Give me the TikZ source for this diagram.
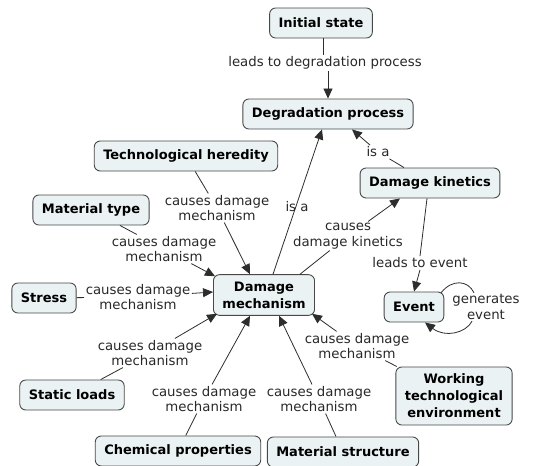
\documentclass[tikz,border=0pt]{standalone}
\usepackage{fontspec}
\setmainfont{DejaVu Sans}
\usetikzlibrary{arrows.meta}
\definecolor{boxfill}{RGB}{234,242,244}
\definecolor{boxline}{RGB}{72,72,72}
\definecolor{linkcol}{RGB}{45,45,45}
\definecolor{lbltext}{RGB}{40,40,40}
\tikzset{
  concept/.style={draw=boxline, fill=boxfill, rounded corners=6pt, line width=0.9pt,
    font=\bfseries\fontsize{13}{17}\selectfont, align=center, inner xsep=9pt,
    inner ysep=7pt, minimum height=30pt, text=black},
  lbl/.style={font=\fontsize{13.3}{15.5}\selectfont, align=center, inner sep=1.5pt, text=lbltext},
  link/.style={draw=linkcol, line width=0.8pt},
  arr/.style={link, -{Triangle[length=10pt,width=9pt]}}
}
\begin{document}
\begin{tikzpicture}[x=1pt,y=-1pt]
\useasboundingbox (0,0) rectangle (541,466);
% concepts
\node[concept] (init) at (321,23) {Initial state};
\node[concept] (deg) at (328,114) {Degradation process};
\node[concept] (her) at (186,156) {Technological heredity};
\node[concept] (mat) at (91,210) {Material type};
\node[concept] (kin) at (430,183) {Damage kinetics};
\node[concept] (mech) at (264,295) {Damage\\mechanism};
\node[concept] (str) at (44,298) {Stress};
\node[concept] (ev) at (414,307) {Event};
\node[concept] (sl) at (72,395) {Static loads};
\node[concept] (env) at (454,396) {Working\\technological\\environment};
\node[concept] (chem) at (178,451) {Chemical properties};
\node[concept] (ms) at (343,452) {Material structure};
% labels
\node[lbl] (l1) at (325,63) {leads to degradation process};
\node[lbl] (l2) at (378,152) {is a};
\node[lbl] (l3) at (297,207) {is a};
\node[lbl] (l4) at (217,208) {causes damage\\mechanism};
\node[lbl] (l5) at (164,249) {causes damage\\mechanism};
\node[lbl] (l6) at (348,236) {causes\\damage kinetics};
\node[lbl] (l7) at (420,263) {leads to event};
\node[lbl] (l8) at (138,297) {causes damage\\mechanism};
\node[lbl] (l9) at (486,307) {generates\\event};
\node[lbl] (l10) at (150,353) {causes damage\\mechanism};
\node[lbl] (l11) at (204,399) {causes damage\\mechanism};
\node[lbl] (l12) at (319,399) {causes damage\\mechanism};
\node[lbl] (l13) at (357,346) {causes damage\\mechanism};
% connectors
\draw[link] ([xshift=2pt]init.south) -- ([xshift=2pt]init.south |- l1.north);
\draw[arr] (deg.north |- l1.south) -- (deg.north);
\draw[link] ([xshift=-26pt]kin.north) -- (l2);
\draw[arr] (l2) -- ([xshift=24pt]deg.south);
\draw[arr] ([xshift=9pt]mech.north) -- ([xshift=-6pt]deg.south);
\draw[link] (her) -- (l4);
\draw[arr] (l4) -- ([xshift=-14pt]mech.north);
\draw[link] (mat) -- (l5);
\draw[arr] (l5) -- ([xshift=2pt,yshift=-2pt]mech.north west);
\draw[link] (str) -- (l8);
\draw[arr] (l8) -- ([yshift=3pt]mech.west);
\draw[link] (sl) -- (l10);
\draw[arr] (l10) -- ([xshift=4pt,yshift=2pt]mech.south west);
\draw[link] (chem) -- (l11);
\draw[arr] (l11) -- ([xshift=-14pt]mech.south);
\draw[link] (ms) -- (l12);
\draw[arr] (l12) -- ([xshift=15pt]mech.south);
\draw[link] (env) -- (l13);
\draw[arr] (l13) -- ([xshift=-3pt,yshift=2pt]mech.south east);
\draw[link] ([xshift=-15pt]mech.north east) -- (l6);
\draw[arr] (l6) -- ([xshift=-30pt]kin.south);
\draw[link] ([xshift=-3pt]kin.south) -- (l7.north);
\draw[arr] (l7.south) -- (ev.north);
\draw[link] ([xshift=-3pt,yshift=-1pt]ev.north east) .. controls (452,279) and (468,280) .. ([xshift=-12pt]l9.north);
\draw[arr] ([xshift=-14pt]l9.south) .. controls (466,333) and (445,338) .. ([xshift=11pt]ev.south);
\end{tikzpicture}
\end{document}
